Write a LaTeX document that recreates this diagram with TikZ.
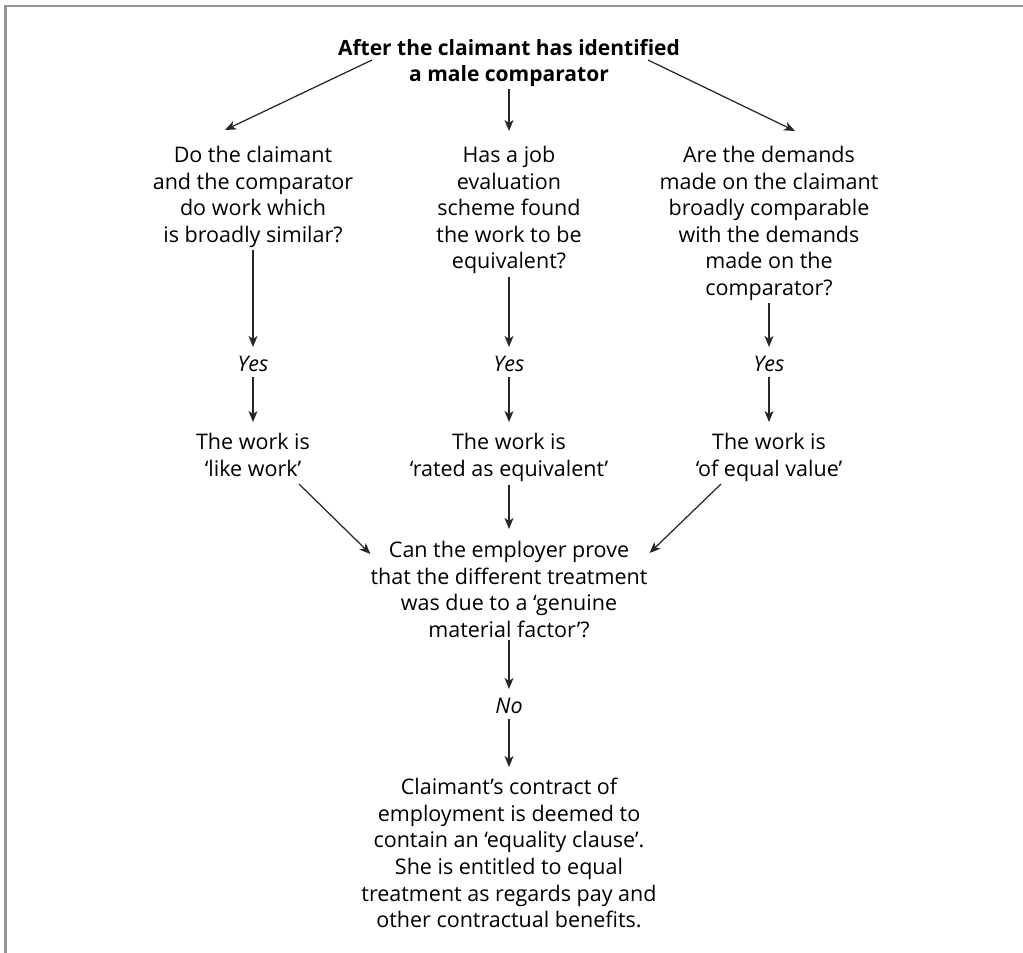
\documentclass[tikz,border=0pt]{standalone}
\usepackage{fontspec}
\setmainfont{Open Sans}[Ligatures=NoCommon]
\usetikzlibrary{arrows.meta}
\begin{document}
\begin{tikzpicture}[x=1pt,y=-1pt,
  txt/.style={align=center, inner sep=0pt, font=\fontsize{21.5}{26.6}\selectfont},
  ttl/.style={txt, font=\bfseries\fontsize{21}{26.6}\selectfont},
  ans/.style={inner sep=0pt, anchor=base, font=\itshape\fontsize{21.5}{26.6}\selectfont},
  arr/.style={-{Stealth[length=11pt,width=9pt,inset=3pt]}, line width=1.25pt, black!85},
  frame/.style={draw=black!42, line width=2.5pt}]
\useasboundingbox (0,0) rectangle (1023,953);
\draw[frame] (5.5,953) -- (5.5,6) -- (1023,6);

% nodes
\node[ttl, anchor=north] (title) at (509,39) {After the claimant has identified\\a male comparator};
\node[txt, anchor=north] (q1) at (253,146) {Do the claimant\\and the comparator\\do work which\\is broadly similar?};
\node[txt, anchor=north] (q2) at (509,146) {Has a job\\evaluation\\scheme found\\the work to be\\equivalent?};
\node[txt, anchor=north] (q3) at (769,146) {Are the demands\\made on the claimant\\broadly comparable\\with the demands\\made on the\\comparator?};
\node[ans] (y1) at (253,371) {Yes};
\node[ans] (y2) at (509,371) {Yes};
\node[ans] (y3) at (769,371) {Yes};
\node[txt, anchor=north] (w1) at (253,433) {The work is\\‘like work’};
\node[txt, anchor=north] (w2) at (509,433) {The work is\\‘rated as equivalent’};
\node[txt, anchor=north] (w3) at (769,433) {The work is\\‘of equal value’};
\node[txt, anchor=north] (gmf) at (509,541) {Can the employer prove\\that the different treatment\\was due to a ‘genuine\\material factor’?};
\node[ans] (no) at (509,713) {No};
\node[txt, anchor=north] (fin) at (509,778) {Claimant’s contract of\\employment is deemed to\\contain an ‘equality clause’.\\She is entitled to equal\\treatment as regards pay and\\other contractual benefits.};

% connector ends
\coordinate (tl) at (372,60);
\coordinate (tr) at (648,60);
\coordinate (q1t) at (225,130);
\coordinate (q3t) at (795,131);
\coordinate (w1e) at (299,484);
\coordinate (w3e) at (721,484);

% connectors
\draw[arr] (tl) -- (q1t);
\draw[arr, shorten <=2pt, shorten >=15pt] (title.south) -- (q2.north);
\draw[arr] (tr) -- (q3t);

\draw[arr, shorten <=2pt, shorten >=8.5pt] (q1.south) -- (y1.north);
\draw[arr, shorten <=2.5pt, shorten >=8.5pt] (q2.south) -- (y2.north);
\draw[arr, shorten <=2.5pt, shorten >=8.5pt] (q3.south) -- (y3.north);

\draw[arr, shorten <=6pt, shorten >=11pt] (y1.base) -- (w1.north);
\draw[arr, shorten <=6pt, shorten >=11pt] (y2.base) -- (w2.north);
\draw[arr, shorten <=6pt, shorten >=11pt] (y3.base) -- (w3.north);

\draw[arr] (w1e) -- ([yshift=-13pt]gmf.north west);
\draw[arr, shorten <=3pt, shorten >=12pt] (w2.south) -- (gmf.north);
\draw[arr] (w3e) -- ([xshift=2pt,yshift=-12pt]gmf.north east);

\draw[arr, shorten <=2.5pt, shorten >=8.5pt] (gmf.south) -- (no.north);
\draw[arr, shorten <=6pt, shorten >=11pt] (no.base) -- (fin.north);
\end{tikzpicture}
\end{document}
